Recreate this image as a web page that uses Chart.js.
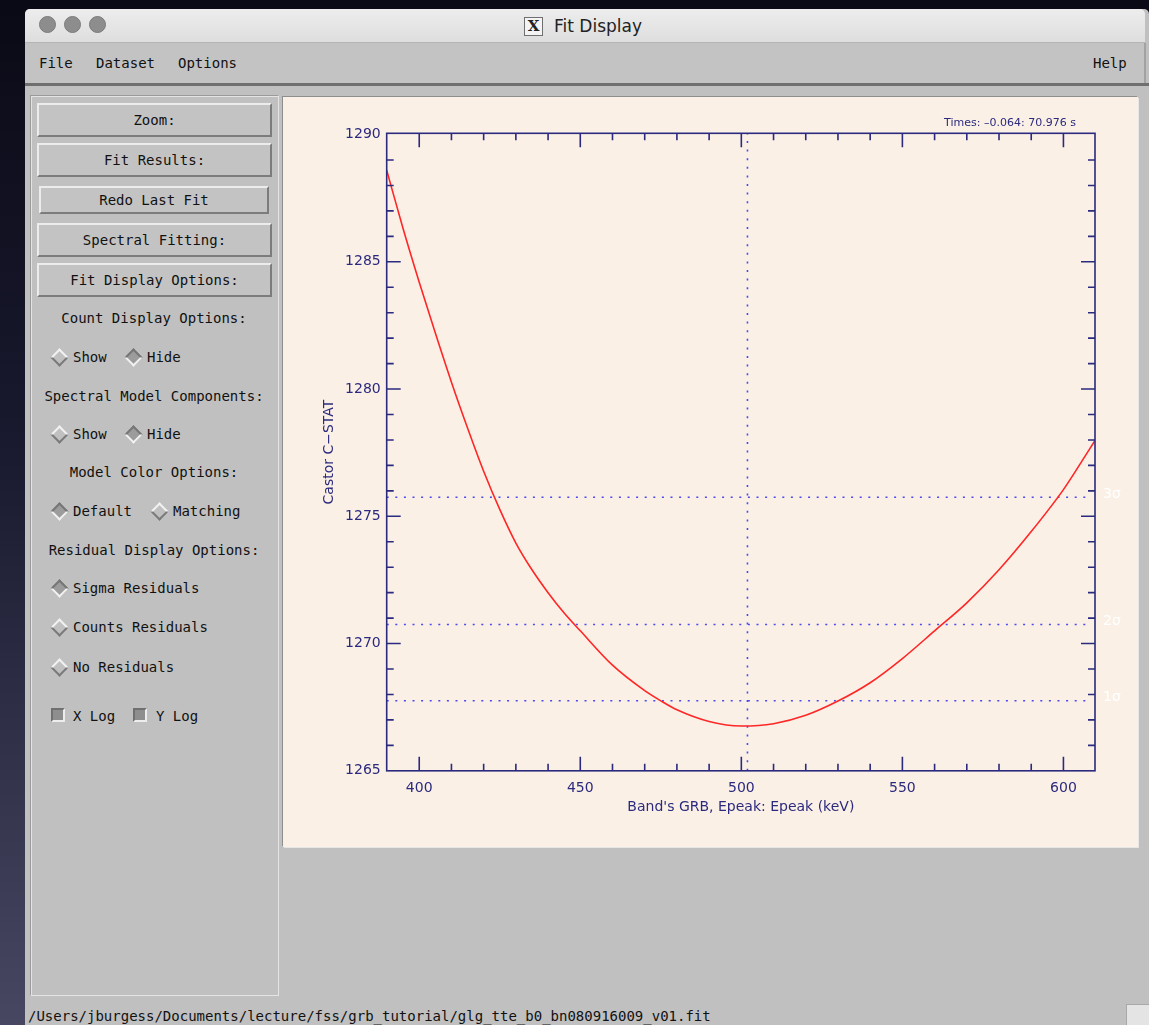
<!DOCTYPE html>
<html>
<head>
<meta charset="utf-8">
<title>Fit Display</title>
<script src="https://cdn.jsdelivr.net/npm/chart.js@4.4.1/dist/chart.umd.min.js"></script>
<style>
html, body { margin: 0; padding: 0; }
body {
    width: 1149px; height: 1025px; position: relative; overflow: hidden;
    background: linear-gradient(180deg, #0a0a16 0%, #1a1a30 45%, #474762 100%);
    font-family: 'DejaVu Sans Mono', monospace; font-size: 14px; color: #111;
}
.abs { position: absolute; }
.txt { position: absolute; height: 18px; line-height: 18px; white-space: nowrap; }
.ctr { text-align: center; }
#win { left: 25px; top: 9px; width: 1124px; height: 1016px; background: #c0c0c0; border-radius: 5px 5px 0 0; }
#titlebar { left: 25px; top: 9px; width: 1120px; height: 33px; border-radius: 5px 5px 0 0;
    background: linear-gradient(180deg, #ededed 0%, #dedede 100%); border-bottom: 1px solid #b4b4b4; }
.light { width: 15px; height: 15px; border-radius: 50%; background: #8d8d8d; border: 1px solid #7b7b7b; top: 16px; }
#xicon { left: 524px; top: 17px; width: 17px; height: 17px; border: 1px solid #6f6f6f; background: #f4f4f4;
    font: bold 15px 'DejaVu Serif', serif; line-height: 17px; text-align: center; color: #222; }
#title { left: 554px; top: 14px; font: 17px 'DejaVu Sans', sans-serif; line-height: 24px; color: #222; }
#menubar { left: 25px; top: 43px; width: 1119px; height: 40px; background: #c3c3c3; border-right: 2px solid #a2a2a2; }
#menuline { left: 25px; top: 83px; width: 1124px; height: 3px; background: #6f6f6f; }
#leftpanel { left: 31px; top: 96px; width: 246px; height: 898px; border: 1px solid #e4e4e4; box-shadow: -1px -1px 0 #9a9a9a; }
.btn { position: absolute; box-sizing: border-box; background: #c3c3c3;
    border-top: 2px solid #ececec; border-left: 2px solid #ececec;
    border-bottom: 2px solid #7c7c7c; border-right: 2px solid #7c7c7c;
    text-align: center; white-space: nowrap; }
.dia { position: absolute; width: 9px; height: 9px; transform: rotate(45deg); box-sizing: content-box; }
.off { border-top: 2px solid #f2f2f2; border-left: 2px solid #f2f2f2; border-bottom: 2px solid #7a7a7a; border-right: 2px solid #7a7a7a; background: #c0c0c0; }
.on { border-top: 2px solid #767676; border-left: 2px solid #767676; border-bottom: 2px solid #f2f2f2; border-right: 2px solid #f2f2f2; background: #9c9c9c; }
.chk { position: absolute; width: 10px; height: 10px; background: #8e8e8e;
    border-top: 2px solid #707070; border-left: 2px solid #707070; border-bottom: 2px solid #ededed; border-right: 2px solid #ededed; }
#plotpanel { left: 283px; top: 97px; width: 855px; height: 750px; background: #faf0e6;
    box-shadow: -1px -1px 0 #8e8e8e, 1px 1px 0 #e6e6e6; }
#fit { position: absolute; left: 283px; top: 97px; }
#grip { left: 1126px; top: 1004px; width: 23px; height: 21px; background: #e4e4e4; border-left: 1px solid #a8a8a8; border-top: 1px solid #a8a8a8; }
</style>
</head>
<body>
<div id="win" class="abs"></div>
<div id="titlebar" class="abs"></div>
<div class="abs light" style="left:39px"></div>
<div class="abs light" style="left:64px"></div>
<div class="abs light" style="left:89px"></div>
<div id="xicon" class="abs">X</div>
<div id="title" class="abs">Fit Display</div>

<div id="menubar" class="abs"></div>
<div class="txt" style="left:39px; top:54px">File</div>
<div class="txt" style="left:96px; top:54px">Dataset</div>
<div class="txt" style="left:178px; top:54px">Options</div>
<div class="txt" style="left:1093px; top:54px">Help</div>
<div id="menuline" class="abs"></div>

<div id="leftpanel" class="abs"></div>
<div class="btn" style="left:37px; top:103px; width:235px; height:34px; line-height:30px">Zoom:</div>
<div class="btn" style="left:37px; top:143px; width:235px; height:34px; line-height:30px">Fit Results:</div>
<div class="btn" style="left:39px; top:186px; width:230px; height:28px; line-height:24px">Redo Last Fit</div>
<div class="btn" style="left:37px; top:223px; width:235px; height:34px; line-height:30px">Spectral Fitting:</div>
<div class="btn" style="left:37px; top:263px; width:235px; height:34px; line-height:30px">Fit Display Options:</div>

<div class="txt ctr" style="left:31px; width:246px; top:309px">Count Display Options:</div>
<div class="dia off" style="left:53px; top:351px"></div><div class="txt" style="left:73px; top:348px">Show</div>
<div class="dia on" style="left:127px; top:351px"></div><div class="txt" style="left:147px; top:348px">Hide</div>

<div class="txt ctr" style="left:31px; width:246px; top:387px">Spectral Model Components:</div>
<div class="dia off" style="left:53px; top:428px"></div><div class="txt" style="left:73px; top:425px">Show</div>
<div class="dia on" style="left:127px; top:428px"></div><div class="txt" style="left:147px; top:425px">Hide</div>

<div class="txt ctr" style="left:31px; width:246px; top:463px">Model Color Options:</div>
<div class="dia on" style="left:53px; top:505px"></div><div class="txt" style="left:73px; top:502px">Default</div>
<div class="dia off" style="left:153px; top:505px"></div><div class="txt" style="left:173px; top:502px">Matching</div>

<div class="txt ctr" style="left:31px; width:246px; top:541px">Residual Display Options:</div>
<div class="dia on" style="left:53px; top:582px"></div><div class="txt" style="left:73px; top:579px">Sigma Residuals</div>
<div class="dia off" style="left:53px; top:621px"></div><div class="txt" style="left:73px; top:618px">Counts Residuals</div>
<div class="dia off" style="left:53px; top:661px"></div><div class="txt" style="left:73px; top:658px">No Residuals</div>

<div class="chk" style="left:51px; top:708px"></div><div class="txt" style="left:73px; top:707px">X Log</div>
<div class="chk" style="left:133px; top:708px"></div><div class="txt" style="left:156px; top:707px">Y Log</div>

<div id="plotpanel" class="abs"></div>
<canvas id="fit" width="855" height="750"></canvas>

<div class="txt" style="left:28px; top:1007px">/Users/jburgess/Documents/lecture/fss/grb_tutorial/glg_tte_b0_bn080916009_v01.fit</div>
<div id="grip" class="abs"></div>

<script>
// C-STAT profile
const epeak = [389.9, 395, 400, 405, 410, 415, 420, 425, 430, 435, 440, 445, 450, 460, 470, 475, 480, 490,
               500, 510, 520, 530, 540, 550, 560, 570, 580, 590, 600, 605, 609.8];
const cstat = [1288.6, 1286.3, 1284.2, 1282.2, 1280.27, 1278.47, 1276.77, 1275.27, 1273.95, 1272.9, 1272.0,
               1271.2, 1270.5, 1269.15, 1268.15, 1267.75, 1267.4, 1266.94, 1266.76, 1266.85, 1267.18, 1267.74,
               1268.46, 1269.41, 1270.5, 1271.6, 1272.9, 1274.4, 1276.05, 1277.02, 1277.98];

// confidence levels and best fit value
const sigmaLevels = [1267.75, 1270.75, 1275.75];
const sigmaLabels = ['1σ', '2σ', '3σ'];
const bestEpeak = 501.9;
const sigmaLineEnd = 607.4;

// axes
const xTicks = [400, 450, 500, 550, 600];
const yTicks = [1265, 1270, 1275, 1280, 1285, 1290];
const xRange = [389.9, 609.8];
const yRange = [1265, 1290.05];
const xTitle = "Band's GRB, Epeak: Epeak (keV)";
const yTitle = 'Castor C\u2212STAT';
const timeText = 'Times: \u20130.064: 70.976 s';

const NAVY = '#2b2a7e';
const DOTS = '#4a4af0';
const FONT = 'DejaVu Sans';

const dotted = {
    borderColor: DOTS,
    borderWidth: 1.6,
    borderDash: [2, 6.6],
    pointRadius: 0,
    fill: false
};

const datasets = [{
    label: 'C-STAT',
    data: epeak.map((e, i) => ({ x: e, y: cstat[i] })),
    borderColor: '#ff2626',
    borderWidth: 1.6,
    pointRadius: 0,
    cubicInterpolationMode: 'monotone',
    fill: false
}];
sigmaLevels.forEach(function (lvl, i) {
    datasets.push(Object.assign({
        label: sigmaLabels[i],
        data: [{ x: xRange[0], y: lvl }, { x: sigmaLineEnd, y: lvl }]
    }, dotted));
});
datasets.push(Object.assign({
    label: 'best',
    data: [{ x: bestEpeak, y: yRange[0] }, { x: bestEpeak, y: yRange[1] }]
}, dotted));

// IDL-style box with inward ticks on all four sides, plus the loose labels
const idlAxes = {
    id: 'idlAxes',
    afterDatasetsDraw(chart) {
        const { ctx, chartArea: a, scales: { x, y } } = chart;
        ctx.save();
        ctx.strokeStyle = NAVY;
        ctx.lineWidth = 1.6;
        ctx.strokeRect(a.left, a.top, a.right - a.left, a.bottom - a.top);

        ctx.beginPath();
        for (let v = Math.ceil(x.min / 10) * 10; v <= x.max; v += 10) {
            const px = x.getPixelForValue(v);
            if (px - a.left < 3 || a.right - px < 3) continue;
            const len = xTicks.includes(v) ? 14 : 7;
            ctx.moveTo(px, a.bottom); ctx.lineTo(px, a.bottom - len);
            ctx.moveTo(px, a.top); ctx.lineTo(px, a.top + len);
        }
        for (let v = Math.ceil(y.min); v <= y.max; v += 1) {
            const py = y.getPixelForValue(v);
            if (a.bottom - py < 3 || py - a.top < 3) continue;
            const len = yTicks.includes(v) ? 14 : 7;
            ctx.moveTo(a.left, py); ctx.lineTo(a.left + len, py);
            ctx.moveTo(a.right, py); ctx.lineTo(a.right - len, py);
        }
        ctx.stroke();

        ctx.fillStyle = NAVY;
        ctx.font = '11px ' + FONT;
        ctx.textAlign = 'center';
        ctx.textBaseline = 'middle';
        ctx.fillText(timeText, a.right - 85, a.top - 10);

        ctx.fillStyle = '#ffffff';
        ctx.font = '14px ' + FONT;
        ctx.textAlign = 'left';
        sigmaLevels.forEach(function (lvl, i) {
            ctx.fillText(sigmaLabels[i], a.right + 8, y.getPixelForValue(lvl) - 3);
        });
        ctx.restore();
    }
};

new Chart(document.getElementById('fit').getContext('2d'), {
    type: 'line',
    data: { datasets: datasets },
    options: {
        responsive: false,
        animation: false,
        events: [],
        layout: { padding: { top: 36.3, right: 43, left: 0, bottom: 0 } },
        plugins: { legend: { display: false }, tooltip: { enabled: false } },
        scales: {
            x: {
                type: 'linear',
                min: xRange[0],
                max: xRange[1],
                afterBuildTicks: function (s) { s.ticks = xTicks.map(v => ({ value: v })); },
                afterFit: function (s) { s.height = 76.2; },
                grid: { display: false, drawTicks: false },
                border: { display: false },
                ticks: { color: NAVY, font: { family: FONT, size: 14 }, padding: 9, maxRotation: 0,
                         callback: v => String(v) },
                title: { display: true, text: xTitle, color: NAVY, font: { family: FONT, size: 14 }, padding: { top: 0, bottom: 31 } }
            },
            y: {
                type: 'linear',
                min: yRange[0],
                max: yRange[1],
                afterBuildTicks: function (s) { s.ticks = yTicks.map(v => ({ value: v })); },
                afterFit: function (s) { s.width = 103.7; },
                grid: { display: false, drawTicks: false },
                border: { display: false },
                ticks: { color: NAVY, font: { family: FONT, size: 14 }, padding: 6,
                         callback: v => String(v) },
                title: { display: true, text: yTitle, color: NAVY, font: { family: FONT, size: 14 }, padding: { top: 37.8, bottom: 0 } }
            }
        }
    },
    plugins: [idlAxes]
});
</script>
</body>
</html>
